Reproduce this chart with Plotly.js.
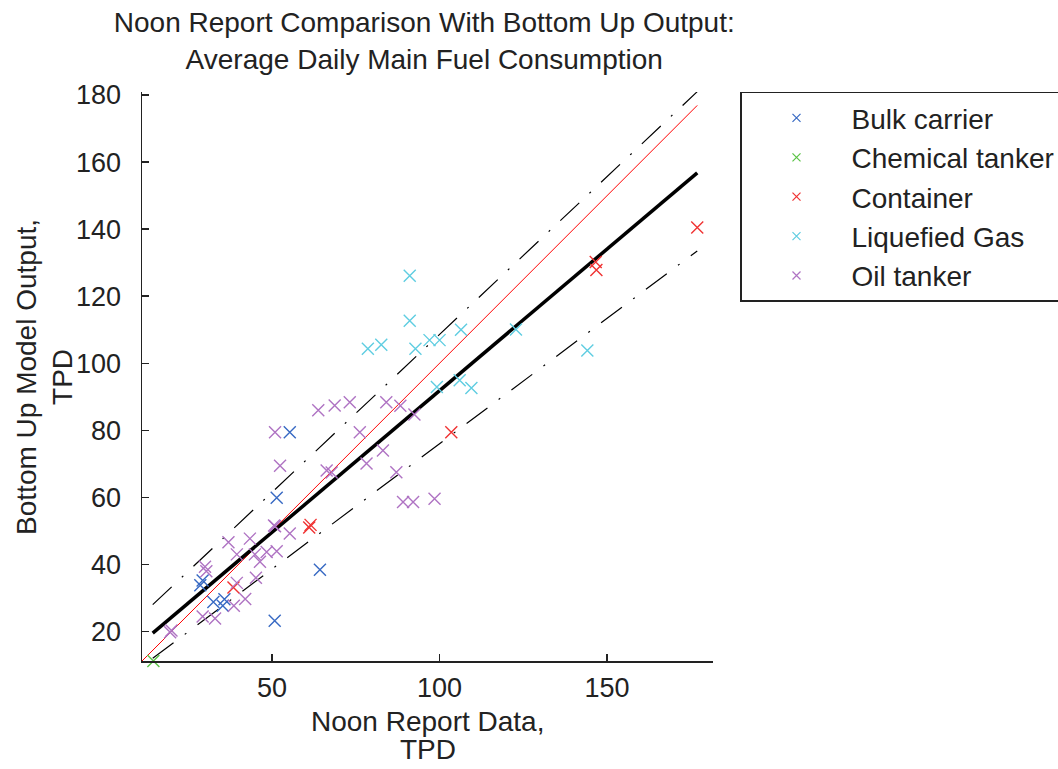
<!DOCTYPE html>
<html>
<head>
<meta charset="utf-8">
<script src="https://cdn.plot.ly/plotly-3.0.1.min.js"></script>
<style>html,body{margin:0;padding:0;background:#fff;}</style>
</head>
<body>
<div id="chart" style="width:1058px;height:769px;"></div>
<script>
// ---- data ----
const seriesNames = ["Bulk carrier", "Chemical tanker", "Container", "Liquefied Gas", "Oil tanker"];

const bulkX = [28.6, 29.3, 32.5, 35.3, 35.8, 50.8, 51.4, 55.3, 64.3];
const bulkY = [33.8, 35.2, 28.8, 27.7, 29.6, 23.2, 59.9, 79.4, 38.4];

const chemX = [14.6];
const chemY = [11.2];

const contX = [38.5, 61.1, 61.5, 103.5, 146.6, 146.8, 176.9];
const contY = [33.1, 51.0, 51.8, 79.4, 130.2, 127.8, 140.5];

const lngX = [78.6, 82.6, 91.1, 91.1, 92.8, 97.0, 100.0, 106.4, 122.8, 99.2, 106.0, 109.5, 144.1];
const lngY = [104.3, 105.5, 126.1, 112.7, 104.3, 106.9, 106.9, 110.0, 110.1, 92.9, 94.9, 92.6, 103.8];

const oilX = [19.6, 20.0, 29.3, 33.0, 30.0, 30.4, 38.6, 42.0, 39.5, 37.0, 43.4, 39.5, 44.9, 48.4, 51.4, 46.4, 45.2,
              50.9, 55.3, 50.6, 52.4, 50.9, 63.8, 68.7, 73.2, 84.1, 88.3, 92.5, 76.2, 83.1, 78.2, 66.3, 67.8, 87.1, 89.1, 92.1, 98.5];
const oilY = [19.8, 20.3, 24.5, 23.9, 39.3, 38.0, 27.7, 29.7, 34.5, 46.6, 47.7, 43.0, 43.0, 43.7, 43.9, 40.8, 36.0,
              51.4, 49.2, 51.6, 69.4, 79.4, 86.0, 87.4, 88.4, 88.4, 87.3, 84.7, 79.4, 74.0, 70.1, 68.0, 67.4, 67.5, 58.6, 58.6, 59.6];

const idealX = [11.2, 176.9];
const idealY = [11.2, 176.9];
const fitX = [14.4, 176.9];
const fitY = [19.5, 156.8];
const upperY = [28.0, 181.0];
const lowerY = [12.0, 133.5];

const xTicks = [50, 100, 150];
const yTicks = [20, 40, 60, 80, 100, 120, 140, 160, 180];

const titleText = "Noon Report Comparison With Bottom Up Output:<br>Average Daily Main Fuel Consumption";
const xTitleLines = ["Noon Report Data,", "TPD"];
const yTitleText = "Bottom Up Model Output,<br>TPD";

// ---- styling ----
const colors = ["rgb(55,105,195)", "rgb(90,195,70)", "rgb(240,50,50)", "rgb(95,205,225)", "rgb(175,115,195)"];
const FONT = "Liberation Sans, Arial, Helvetica, sans-serif";
const FS = 28;
const TFS = 27;

const xs = [bulkX, chemX, contX, lngX, oilX];
const ys = [bulkY, chemY, contY, lngY, oilY];

const traces = [];
// reference lines
traces.push({x: idealX, y: idealY, mode: "lines", line: {color: "rgb(255,0,0)", width: 1}, showlegend: false, hoverinfo: "skip"});
traces.push({x: fitX, y: upperY, mode: "lines", line: {color: "black", width: 1.2, dash: "26px,14px,2px,14px"}, showlegend: false, hoverinfo: "skip"});
traces.push({x: fitX, y: lowerY, mode: "lines", line: {color: "black", width: 1.2, dash: "26px,14px,2px,14px"}, showlegend: false, hoverinfo: "skip"});
traces.push({x: fitX, y: fitY, mode: "lines", line: {color: "black", width: 3.5}, showlegend: false, hoverinfo: "skip"});

for (let i = 0; i < seriesNames.length; i++) {
  traces.push({
    x: xs[i], y: ys[i], mode: "markers", name: seriesNames[i], legendgroup: seriesNames[i],
    showlegend: false, cliponaxis: false,
    marker: {symbol: "x-thin", size: 12, line: {color: colors[i], width: 1.4}, color: colors[i]}
  });
}
// legend entries (smaller markers, as in the reference legend)
for (let i = 0; i < seriesNames.length; i++) {
  traces.push({
    x: [null], y: [null], mode: "markers", name: seriesNames[i], legendgroup: seriesNames[i],
    showlegend: true,
    marker: {symbol: "x-thin", size: 8, line: {color: colors[i], width: 1.2}, color: colors[i]}
  });
}

const axisCommon = {
  showline: true, linecolor: "#222", linewidth: 1.5, mirror: false,
  ticks: "inside", ticklen: 7, tickwidth: 1.5, tickcolor: "#222",
  showgrid: false, zeroline: false,
  tickfont: {family: FONT, size: TFS, color: "#222"},
  fixedrange: true
};

const PLOT_H = 569.3;
const layout = {
  width: 1058, height: 769,
  paper_bgcolor: "white", plot_bgcolor: "white",
  margin: {l: 141.7, r: 344.7, t: 91.7, b: 108, pad: 0},
  font: {family: FONT, size: FS, color: "#222"},
  title: {
    text: titleText,
    font: {family: FONT, size: FS, color: "#222"},
    xref: "container", x: 0.401, xanchor: "center",
    yref: "container", y: 0.958, yanchor: "top"
  },
  xaxis: Object.assign({}, axisCommon, {
    range: [11.2, 181.6], tickvals: xTicks, ticktext: xTicks.map(String),
    ticklabelstandoff: 2
  }),
  yaxis: Object.assign({}, axisCommon, {
    range: [11.2, 180.9], tickvals: yTicks, ticktext: yTicks.map(String),
    ticklabelstandoff: 14
  }),
  annotations: [{
    text: yTitleText, textangle: -90, showarrow: false,
    xref: "paper", yref: "paper",
    x: (44 - 141.7) / 571.6, xanchor: "center",
    y: 0.5, yanchor: "middle",
    font: {family: FONT, size: FS, color: "#222"}
  }, {
    text: xTitleLines[0], showarrow: false, borderpad: 0,
    xref: "paper", yref: "paper",
    x: 0.5, xanchor: "center",
    y: (661 - 722) / PLOT_H, yanchor: "middle",
    font: {family: FONT, size: FS, color: "#222"}
  }, {
    text: xTitleLines[1], showarrow: false, borderpad: 0,
    xref: "paper", yref: "paper",
    x: 0.5, xanchor: "center",
    y: (661 - 750) / PLOT_H, yanchor: "middle",
    font: {family: FONT, size: FS, color: "#222"}
  }],
  showlegend: true,
  legend: {
    xref: "container", yref: "container",
    x: 740 / 1058, xanchor: "left", y: 1 - 91.7 / 769, yanchor: "top",
    bordercolor: "#222", borderwidth: 1.5, bgcolor: "white",
    font: {family: FONT, size: FS, color: "#222"},
    itemwidth: 100, tracegroupgap: 0
  }
};

Plotly.newPlot("chart", traces, layout, {staticPlot: true, displayModeBar: false});
</script>
</body>
</html>
